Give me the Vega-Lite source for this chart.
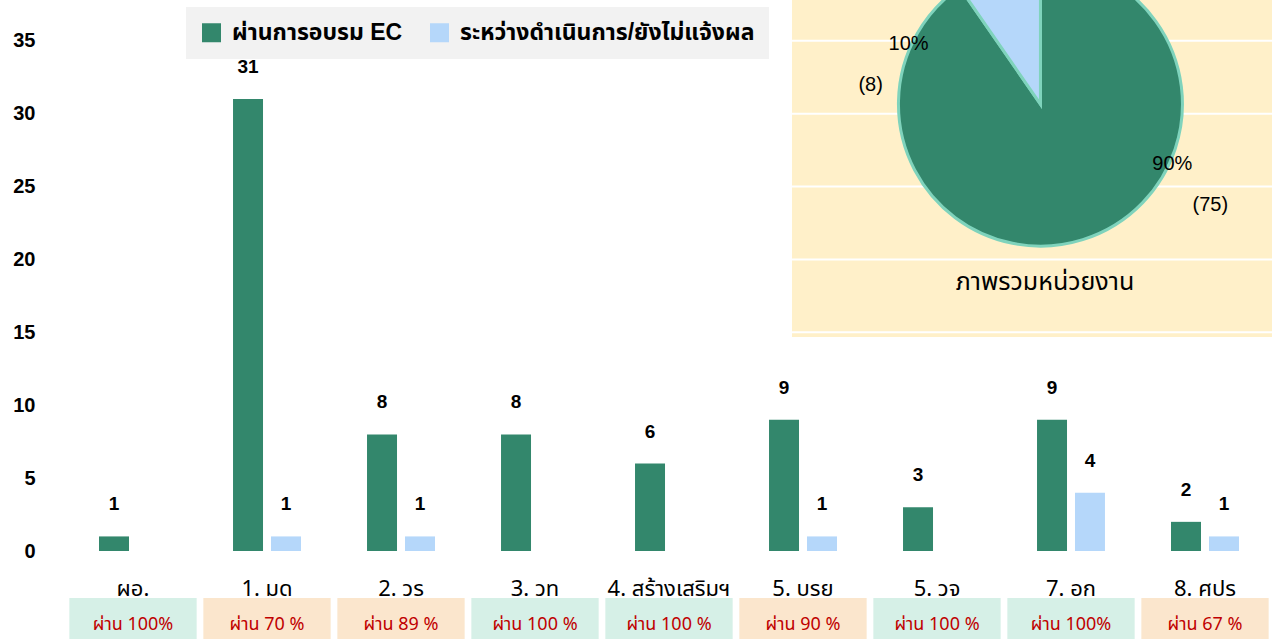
{
  "$schema": "https://vega.github.io/schema/vega-lite/v6.json",
  "width": 1206,
  "height": 551,
  "autosize": {"type": "none"},
  "padding": {"left": 66, "top": 0, "right": 0, "bottom": 88},
  "background": "white",
  "config": {
    "view": {"stroke": null},
    "font": "Liberation Sans, Noto Sans Thai, sans-serif"
  },
  "datasets": {
    "bars": [
      {"unit": "ผอ.", "series": "ผ่านการอบรม EC", "n": 1},
      {"unit": "1. มด", "series": "ผ่านการอบรม EC", "n": 31},
      {"unit": "1. มด", "series": "ระหว่างดำเนินการ/ยังไม่แจ้งผล", "n": 1},
      {"unit": "2. วร", "series": "ผ่านการอบรม EC", "n": 8},
      {"unit": "2. วร", "series": "ระหว่างดำเนินการ/ยังไม่แจ้งผล", "n": 1},
      {"unit": "3. วท", "series": "ผ่านการอบรม EC", "n": 8},
      {"unit": "4. สร้างเสริมฯ", "series": "ผ่านการอบรม EC", "n": 6},
      {"unit": "5. บรย", "series": "ผ่านการอบรม EC", "n": 9},
      {"unit": "5. บรย", "series": "ระหว่างดำเนินการ/ยังไม่แจ้งผล", "n": 1},
      {"unit": "5. วจ", "series": "ผ่านการอบรม EC", "n": 3},
      {"unit": "7. อก", "series": "ผ่านการอบรม EC", "n": 9},
      {"unit": "7. อก", "series": "ระหว่างดำเนินการ/ยังไม่แจ้งผล", "n": 4},
      {"unit": "8. ศปร", "series": "ผ่านการอบรม EC", "n": 2},
      {"unit": "8. ศปร", "series": "ระหว่างดำเนินการ/ยังไม่แจ้งผล", "n": 1}
    ],
    "pie": [
      {"series": "ผ่านการอบรม EC", "n": 75, "ord": 1, "pct": "90%", "cnt": "(75)"},
      {"series": "ระหว่างดำเนินการ/ยังไม่แจ้งผล", "n": 8, "ord": 2, "pct": "10%", "cnt": "(8)"}
    ],
    "boxes": [
      {"unit": "ผอ.", "label": "ผ่าน 100%", "full": true},
      {"unit": "1. มด", "label": "ผ่าน 70 %", "full": false},
      {"unit": "2. วร", "label": "ผ่าน 89 %", "full": false},
      {"unit": "3. วท", "label": "ผ่าน 100 %", "full": true},
      {"unit": "4. สร้างเสริมฯ", "label": "ผ่าน 100 %", "full": true},
      {"unit": "5. บรย", "label": "ผ่าน 90 %", "full": false},
      {"unit": "5. วจ", "label": "ผ่าน 100 %", "full": true},
      {"unit": "7. อก", "label": "ผ่าน 100%", "full": true},
      {"unit": "8. ศปร", "label": "ผ่าน 67 %", "full": false}
    ],
    "grid": [{"g": 15}, {"g": 20}, {"g": 25}, {"g": 30}, {"g": 35}],
    "title": [{"t": "ภาพรวมหน่วยงาน"}]
  },
  "layer": [
    {
      "data": {"name": "title"},
      "mark": {"type": "rect", "color": "#fff0c9"},
      "encoding": {
        "x": {"datum": "5. บรย", "type": "nominal", "bandPosition": 0.418},
        "x2": {"datum": "8. ศปร", "bandPosition": 1},
        "y": {"datum": 14.68, "type": "quantitative"},
        "y2": {"datum": 37.8}
      }
    },
    {
      "data": {"name": "grid"},
      "mark": {"type": "rule", "color": "#ffffff", "strokeWidth": 2},
      "encoding": {
        "x": {"datum": "5. บรย", "type": "nominal", "bandPosition": 0.418},
        "x2": {"datum": "8. ศปร", "bandPosition": 1},
        "y": {"field": "g", "type": "quantitative"}
      }
    },
    {
      "data": {"name": "bars"},
      "mark": {"type": "bar"},
      "encoding": {
        "x": {
          "field": "unit", "type": "nominal",
          "scale": {"domain": ["ผอ.", "1. มด", "2. วร", "3. วท", "4. สร้างเสริมฯ", "5. บรย", "5. วจ", "7. อก", "8. ศปร"], "paddingInner": 0, "paddingOuter": 0},
          "axis": {"title": null, "ticks": false, "domain": false, "labelAngle": 0, "labelAlign": "center", "labelBaseline": "top", "labelFontSize": 22, "labelColor": "#000000", "labelPadding": 27, "labelFont": "Noto Sans Thai, Liberation Sans, sans-serif"}
        },
        "xOffset": {
          "field": "series", "type": "nominal",
          "scale": {"domain": ["ผ่านการอบรม EC", "ระหว่างดำเนินการ/ยังไม่แจ้งผล"], "paddingInner": 0.21, "paddingOuter": 0.87}
        },
        "y": {
          "field": "n", "type": "quantitative", "stack": null,
          "scale": {"domain": [0, 37.8], "nice": false},
          "axis": {"title": null, "values": [0, 5, 10, 15, 20, 25, 30, 35], "ticks": false, "domain": false, "labelFontSize": 20, "labelFontWeight": "bold", "labelColor": "#000000", "labelPadding": 31, "gridColor": "#fafaee", "gridWidth": 1}
        },
        "color": {
          "field": "series", "type": "nominal",
          "scale": {"domain": ["ผ่านการอบรม EC", "ระหว่างดำเนินการ/ยังไม่แจ้งผล"], "range": ["#33876c", "#b5d7fa"]},
          "legend": {
            "title": null, "orient": "none", "legendX": 120, "legendY": 7, "direction": "horizontal",
            "fillColor": "#f2f2f2", "padding": 14, "symbolType": "square", "symbolSize": 361, "symbolStrokeWidth": 0,
            "labelFontSize": 23, "labelFontWeight": "bold", "labelColor": "#000000", "labelLimit": 0, "columnPadding": 25, "labelOffset": 9
          }
        }
      }
    },
    {
      "data": {"name": "bars"},
      "mark": {"type": "text", "dy": -32, "fontSize": 19, "fontWeight": "bold", "color": "#000000"},
      "encoding": {
        "x": {"field": "unit", "type": "nominal"},
        "xOffset": {"field": "series", "type": "nominal"},
        "y": {"field": "n", "type": "quantitative", "stack": null},
        "text": {"field": "n", "type": "quantitative"}
      }
    },
    {
      "data": {"name": "pie"},
      "mark": {"type": "arc", "radius": 142, "stroke": "#7fd3bc", "strokeWidth": 3},
      "encoding": {
        "x": {"datum": "7. อก", "type": "nominal", "bandPosition": 0.272},
        "y": {"datum": 30.66, "type": "quantitative"},
        "theta": {"field": "n", "type": "quantitative", "stack": true},
        "order": {"field": "ord", "type": "quantitative"},
        "color": {"field": "series", "type": "nominal"}
      }
    },
    {
      "data": {"name": "pie"},
      "mark": {"type": "text", "radius": 145, "thetaOffset": -0.84, "fontSize": 20, "color": "#000000"},
      "encoding": {
        "x": {"datum": "7. อก", "type": "nominal", "bandPosition": 0.272},
        "y": {"datum": 30.66, "type": "quantitative"},
        "theta": {"field": "n", "type": "quantitative", "stack": true},
        "order": {"field": "ord", "type": "quantitative"},
        "detail": {"field": "series", "type": "nominal"},
        "text": {"field": "pct", "type": "nominal"}
      }
    },
    {
      "data": {"name": "pie"},
      "mark": {"type": "text", "radius": 180, "thetaOffset": -0.93, "dy": 41, "fontSize": 20, "color": "#000000"},
      "encoding": {
        "x": {"datum": "7. อก", "type": "nominal", "bandPosition": 0.272},
        "y": {"datum": 30.66, "type": "quantitative"},
        "theta": {"field": "n", "type": "quantitative", "stack": true},
        "order": {"field": "ord", "type": "quantitative"},
        "detail": {"field": "series", "type": "nominal"},
        "text": {"field": "cnt", "type": "nominal"}
      }
    },
    {
      "data": {"name": "title"},
      "mark": {"type": "text", "fontSize": 25, "color": "#000000", "font": "Noto Sans Thai, Liberation Sans, sans-serif"},
      "encoding": {
        "x": {"datum": "7. อก", "type": "nominal", "bandPosition": 0.306},
        "y": {"datum": 18.45, "type": "quantitative"},
        "text": {"field": "t", "type": "nominal"}
      }
    },
    {
      "data": {"name": "boxes"},
      "mark": {"type": "bar", "width": {"band": 0.95}},
      "encoding": {
        "x": {"field": "unit", "type": "nominal"},
        "y": {"datum": -3.22, "type": "quantitative"},
        "y2": {"datum": -6.3},
        "color": {"condition": {"test": "datum.full", "value": "#d6f0e7"}, "value": "#fbe6cd"}
      }
    },
    {
      "data": {"name": "boxes"},
      "mark": {"type": "text", "fontSize": 18, "color": "#c00000", "font": "Noto Sans Thai, Liberation Sans, sans-serif"},
      "encoding": {
        "x": {"field": "unit", "type": "nominal"},
        "y": {"datum": -5.1, "type": "quantitative"},
        "text": {"field": "label", "type": "nominal"}
      }
    }
  ]
}
